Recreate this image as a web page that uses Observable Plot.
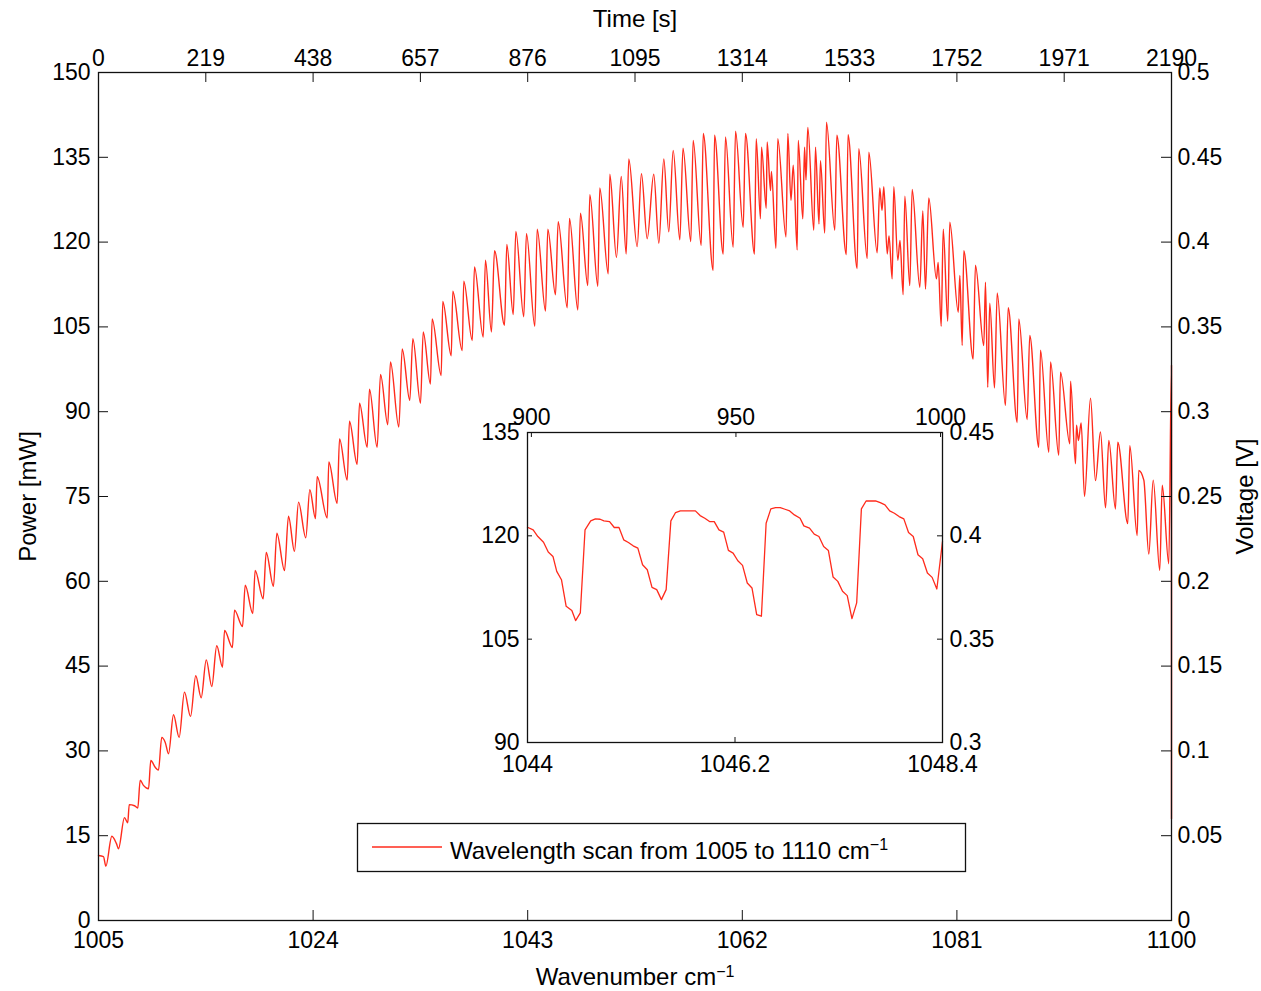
<!DOCTYPE html>
<html><head><meta charset="utf-8">
<script src="https://cdn.jsdelivr.net/npm/d3@7"></script>
<script src="https://cdn.jsdelivr.net/npm/@observablehq/plot@0.6"></script>
<style>
body{margin:0;background:#fff;}
#wrap{position:relative;width:1261px;height:991px;font-family:"Liberation Sans",Arial,Helvetica,sans-serif;}
#main,#inset{position:absolute;}
#main{left:0;top:0;}
#inset{left:460px;top:390px;}
</style></head><body>
<div id="wrap"><div id="main"></div><div id="inset"></div></div>
<script>
// ---------- data ----------
const mainWavenumber = [1005.00,1005.44,1005.65,1006.18,1006.59,1006.77,1007.30,1007.59,1007.72,1008.19,
1008.48,1008.69,1008.98,1009.43,1009.63,1010.02,1010.31,1010.60,1010.91,1011.20,
1011.64,1012.14,1012.61,1013.15,1013.61,1014.09,1014.54,1015.03,1015.47,1015.98,
1016.16,1016.86,1017.04,1017.75,1017.99,1018.66,1018.87,1019.58,1019.85,1020.49,
1020.79,1021.47,1021.82,1022.35,1022.71,1023.35,1023.71,1024.21,1024.36,1025.25,
1025.39,1026.13,1026.34,1027.02,1027.22,1027.90,1028.11,1028.79,1028.99,1029.67,
1029.97,1030.61,1030.85,1031.59,1031.89,1032.56,1032.83,1033.51,1033.75,1034.39,
1034.54,1035.34,1035.48,1036.23,1036.37,1037.20,1037.34,1038.09,1038.29,1039.06,
1039.26,1039.79,1040.06,1040.95,1041.15,1041.72,1041.95,1042.65,1042.89,1043.63,
1043.84,1044.58,1044.78,1045.46,1045.70,1046.50,1046.70,1047.44,1047.67,1048.32,
1048.50,1049.21,1049.38,1050.13,1050.27,1050.86,1051.28,1051.72,1051.95,1052.69,
1053.07,1053.58,1054.16,1054.61,1055.05,1055.49,1055.88,1056.47,1056.75,1057.44,
1057.65,1058.36,1058.54,1059.42,1059.54,1060.31,1060.51,1061.19,1061.40,1062.08,
1062.28,1063.08,1063.23,1063.61,1063.70,1064.12,1064.20,1064.50,1064.58,1064.98,
1065.14,1065.87,1066.03,1066.31,1066.51,1066.86,1066.95,1067.36,1067.51,1067.64,
1067.80,1068.33,1068.48,1068.79,1068.92,1069.30,1069.45,1070.19,1070.37,1071.21,
1071.36,1072.17,1072.31,1073.06,1073.20,1073.94,1074.17,1074.37,1074.53,1074.83,
1074.99,1075.27,1075.41,1075.77,1075.96,1076.24,1076.39,1076.83,1077.04,1077.72,
1077.98,1078.22,1078.51,1079.19,1079.34,1079.61,1079.79,1080.19,1080.37,1081.12,
1081.26,1081.47,1081.61,1082.44,1082.64,1083.38,1083.53,1083.73,1083.91,1084.33,
1084.57,1085.30,1085.54,1086.34,1086.48,1087.22,1087.45,1088.25,1088.40,1089.14,
1089.29,1090.02,1090.17,1091.00,1091.06,1091.50,1091.59,1091.76,1092.00,1092.30,
1092.83,1093.27,1093.71,1094.16,1094.45,1095.04,1095.24,1096.13,1096.31,1096.96,
1097.10,1097.55,1097.99,1098.38,1098.96,1099.18,1099.76,1100.00,1100.00];

const mainPower = [11.5,11.3,9.6,14.9,13.6,12.7,18.2,17.3,20.5,20.3,
19.9,24.8,23.9,23.3,28.3,27.1,26.6,32.4,31.5,29.5,
36.4,32.4,40.4,36.1,43.3,39.4,46.1,41.4,48.6,44.8,
51.3,48.3,54.9,52.0,59.3,54.3,61.9,56.9,65.1,59.1,
68.5,61.9,71.5,65.3,74.0,67.7,76.2,71.1,78.5,71.2,
81.1,73.8,85.2,77.9,88.3,80.7,91.5,83.7,94.0,83.7,
96.6,87.7,98.8,87.3,101.1,92.0,102.9,91.5,104.1,94.9,
106.4,96.4,109.5,99.9,111.3,100.8,113.1,102.6,115.6,103.2,
116.8,104.1,118.5,105.3,119.6,107.2,121.9,106.8,121.5,105.1,
122.3,107.8,122.3,110.7,123.6,108.4,124.2,108.0,125.1,112.3,
128.4,112.2,129.6,114.4,132.0,117.3,131.6,117.9,134.7,119.2,
132.1,120.6,132.0,119.8,134.7,121.8,136.2,120.4,136.6,120.1,
138.0,119.4,139.2,115.0,138.9,117.9,138.6,119.1,139.6,122.6,
139.2,117.9,138.3,124.1,136.8,126.0,137.7,129.1,132.5,118.9,
138.3,120.9,139.2,127.4,133.6,118.6,138.0,124.1,136.8,131.0,
140.3,122.1,136.8,123.2,134.4,121.6,141.2,122.1,138.9,117.8,
139.0,115.3,136.5,117.1,135.9,118.1,129.6,125.6,129.8,117.9,
121.1,113.5,129.8,116.8,120.3,110.7,128.1,112.3,129.3,112.0,
125.5,111.7,127.8,113.5,116.4,105.1,122.3,106.0,123.5,107.6,
114.1,101.7,118.5,99.3,115.9,101.7,112.9,94.3,109.2,94.2,
111.0,91.1,108.4,88.1,106.4,88.6,103.5,83.7,100.9,82.8,
98.8,82.3,97.0,84.3,95.4,80.8,87.6,84.9,88.0,75.0,
92.4,77.8,86.4,73.0,84.9,72.8,84.6,70.2,84.0,68.1,
79.6,77.9,64.8,77.9,61.9,77.0,63.1,98.2,18];

const insetWavenumber = [1044.00,1044.06,1044.11,1044.17,1044.22,1044.27,1044.31,1044.36,1044.41,1044.47,
1044.51,1044.56,1044.61,1044.67,1044.72,1044.77,1044.81,1044.87,1044.92,1044.97,
1045.02,1045.07,1045.12,1045.17,1045.22,1045.27,1045.32,1045.37,1045.42,1045.47,
1045.52,1045.57,1045.62,1045.68,1045.73,1045.78,1045.83,1045.88,1045.93,1045.98,
1046.03,1046.08,1046.13,1046.18,1046.23,1046.28,1046.33,1046.38,1046.43,1046.48,
1046.53,1046.58,1046.63,1046.68,1046.73,1046.78,1046.83,1046.89,1046.93,1046.99,
1047.04,1047.09,1047.14,1047.19,1047.24,1047.29,1047.34,1047.39,1047.44,1047.49,
1047.54,1047.59,1047.64,1047.69,1047.74,1047.79,1047.84,1047.89,1047.94,1047.99,
1048.04,1048.09,1048.14,1048.19,1048.24,1048.29,1048.34,1048.40];

const insetPower = [121.25,120.87,119.90,119.08,117.64,117.01,114.84,113.63,109.77,109.15,
107.70,108.81,120.87,122.17,122.46,122.41,122.17,122.07,121.21,121.21,
119.42,119.04,118.55,118.22,115.80,115.08,112.52,112.19,110.74,112.19,
122.17,123.38,123.62,123.62,123.62,123.62,122.94,122.56,122.07,122.07,
120.87,120.53,117.88,117.49,116.38,115.71,113.15,112.43,108.57,108.33,
121.83,123.91,124.10,124.10,123.86,123.62,123.04,122.56,121.45,121.11,
120.24,119.90,118.46,117.88,114.02,113.39,111.95,111.32,107.99,110.26,
123.91,125.06,125.06,125.06,124.82,124.49,123.62,123.28,122.80,122.46,
120.48,119.90,117.25,116.67,114.60,113.97,112.28,119.18];

// ticks
const wnTicks = [1005, 1024, 1043, 1062, 1081, 1100];
const timeTicks = [0, 219, 438, 657, 876, 1095, 1314, 1533, 1752, 1971, 2190];
const powerTicks = [0, 15, 30, 45, 60, 75, 90, 105, 120, 135, 150];
const voltTicks = [0, 0.05, 0.1, 0.15, 0.2, 0.25, 0.3, 0.35, 0.4, 0.45, 0.5];
const insetWnTicks = [1044, 1046.2, 1048.4];
const insetTimeTicks = [900, 950, 1000];
const insetPowerTicks = [90, 105, 120, 135];
const insetVoltTicks = [0.3, 0.35, 0.4, 0.45];

const legendText = "Wavelength scan from 1005 to 1110 cm";

// ---------- helpers ----------
const timeToWn = d3.scaleLinear([0, 2190], [1005, 1100]);
const voltToPower = d3.scaleLinear([0, 0.5], [0, 150]);
const fmtTime = d => String(Math.round(timeToWn.invert(d)));
const fmtVolt = d => String(+voltToPower.invert(d).toFixed(2));

const mainData = mainWavenumber.map((w, i) => ({w, p: mainPower[i]}));
const insetData = insetWavenumber.map((w, i) => ({w, p: insetPower[i]}));

const RED = "#ff2b1c";
const FONT = "'Liberation Sans', Arial, Helvetica, sans-serif";
const TICK_FS = 23;

// ---------- main plot ----------
const W = 1261, H = 991, ML = 98, MR = 90, MT = 72, MB = 71;
const FW = W - ML - MR, FH = H - MT - MB, TL = 10;

const main = Plot.plot({
  width: W, height: H,
  marginLeft: ML, marginRight: MR, marginTop: MT, marginBottom: MB,
  style: {fontFamily: FONT, fontSize: TICK_FS + "px", background: "white", color: "black", overflow: "visible"},
  x: {domain: [1005, 1100]},
  y: {domain: [0, 150]},
  marks: [
    Plot.line(mainData, {x: "w", y: "p", stroke: RED, strokeWidth: 1.4, curve: "monotone-x"}),
    Plot.frame({stroke: "#111", strokeWidth: 1.3}),
    Plot.tickX(wnTicks, {x: d => d, insetTop: FH - TL, stroke: "#111"}),
    Plot.tickX(timeTicks.map(timeToWn), {x: d => d, insetBottom: FH - TL, stroke: "#111"}),
    Plot.tickY(powerTicks, {y: d => d, insetRight: FW - TL, stroke: "#111"}),
    Plot.tickY(voltTicks.map(voltToPower), {y: d => d, insetLeft: FW - TL, stroke: "#111"}),
    Plot.axisX(wnTicks, {anchor: "bottom", tickSize: 0, tickPadding: 11, tickFormat: d => String(d), label: null, fontSize: TICK_FS}),
    Plot.axisX(timeTicks.map(timeToWn), {anchor: "top", tickSize: 0, tickPadding: 7, tickFormat: fmtTime, label: null, fontSize: TICK_FS}),
    Plot.axisY(powerTicks, {anchor: "left", tickSize: 0, tickPadding: 8, tickFormat: d => String(d), label: null, fontSize: TICK_FS}),
    Plot.axisY(voltTicks.map(voltToPower), {anchor: "right", tickSize: 0, tickPadding: 6, tickFormat: fmtVolt, label: null, fontSize: TICK_FS}),
    Plot.text(["Power [mW]"], {frameAnchor: "left", dx: -70, rotate: -90, fontSize: 24, textAnchor: "middle"}),
    Plot.text(["Voltage [V]"], {frameAnchor: "right", dx: 74, rotate: -90, fontSize: 24, textAnchor: "middle"}),
    Plot.text(["Time [s]"], {frameAnchor: "top", dy: -53, fontSize: 24, lineAnchor: "middle"}),
    Plot.text(["Wavenumber cm"], {frameAnchor: "bottom", dy: 57, fontSize: 24, lineAnchor: "middle"})
  ]
});
document.getElementById("main").appendChild(main);

// superscript on x label
d3.select(main).selectAll("text").filter(function() { return this.textContent === "Wavenumber cm"; })
  .append("tspan").attr("dy", "-0.5em").attr("font-size", "16px").text("\u22121");

// legend box
const lg = d3.select(main).append("g").attr("font-family", FONT).attr("text-anchor", "start");
lg.append("rect").attr("x", 357.5).attr("y", 823.5).attr("width", 608).attr("height", 48)
  .attr("fill", "white").attr("stroke", "#111").attr("stroke-width", 1.3);
lg.append("line").attr("x1", 372).attr("x2", 442).attr("y1", 847).attr("y2", 847)
  .attr("stroke", RED).attr("stroke-width", 1.3);
const lt = lg.append("text").attr("x", 450).attr("y", 859).attr("font-size", 24)
  .attr("text-anchor", "start").attr("fill", "black").text(legendText);
lt.append("tspan").attr("dy", "-0.55em").attr("font-size", "16px").text("\u22121");

// ---------- inset plot ----------
const IW = 560, IH = 400, IML = 67, IMR = 78, IMT = 42, IMB = 48;
const IFW = IW - IML - IMR, IFH = IH - IMT - IMB, ITL = 5;
const inset = Plot.plot({
  width: IW, height: IH,
  marginLeft: IML, marginRight: IMR, marginTop: IMT, marginBottom: IMB,
  style: {fontFamily: FONT, fontSize: TICK_FS + "px", background: "transparent", color: "black", overflow: "visible"},
  x: {domain: [1044, 1048.4]},
  y: {domain: [90, 135]},
  marks: [
    Plot.frame({fill: "white", stroke: "none"}),
    Plot.line(insetData, {x: "w", y: "p", stroke: RED, strokeWidth: 1.3}),
    Plot.frame({stroke: "#111", strokeWidth: 1.3}),
    Plot.tickX(insetWnTicks, {x: d => d, insetTop: IFH - ITL, stroke: "#111"}),
    Plot.tickX(insetTimeTicks.map(timeToWn), {x: d => d, insetBottom: IFH - ITL, stroke: "#111"}),
    Plot.tickY(insetPowerTicks, {y: d => d, insetRight: IFW - ITL, stroke: "#111"}),
    Plot.tickY(insetVoltTicks.map(voltToPower), {y: d => d, insetLeft: IFW - ITL, stroke: "#111"}),
    Plot.axisX(insetWnTicks, {anchor: "bottom", tickSize: 0, tickPadding: 13, tickFormat: d => String(d), label: null, fontSize: TICK_FS}),
    Plot.axisX(insetTimeTicks.map(timeToWn), {anchor: "top", tickSize: 0, tickPadding: 8, tickFormat: fmtTime, label: null, fontSize: TICK_FS}),
    Plot.axisY(insetPowerTicks, {anchor: "left", tickSize: 0, tickPadding: 8, tickFormat: d => String(d), label: null, fontSize: TICK_FS}),
    Plot.axisY(insetVoltTicks.map(voltToPower), {anchor: "right", tickSize: 0, tickPadding: 7, tickFormat: fmtVolt, label: null, fontSize: TICK_FS})
  ]
});
document.getElementById("inset").appendChild(inset);
</script>
</body></html>
